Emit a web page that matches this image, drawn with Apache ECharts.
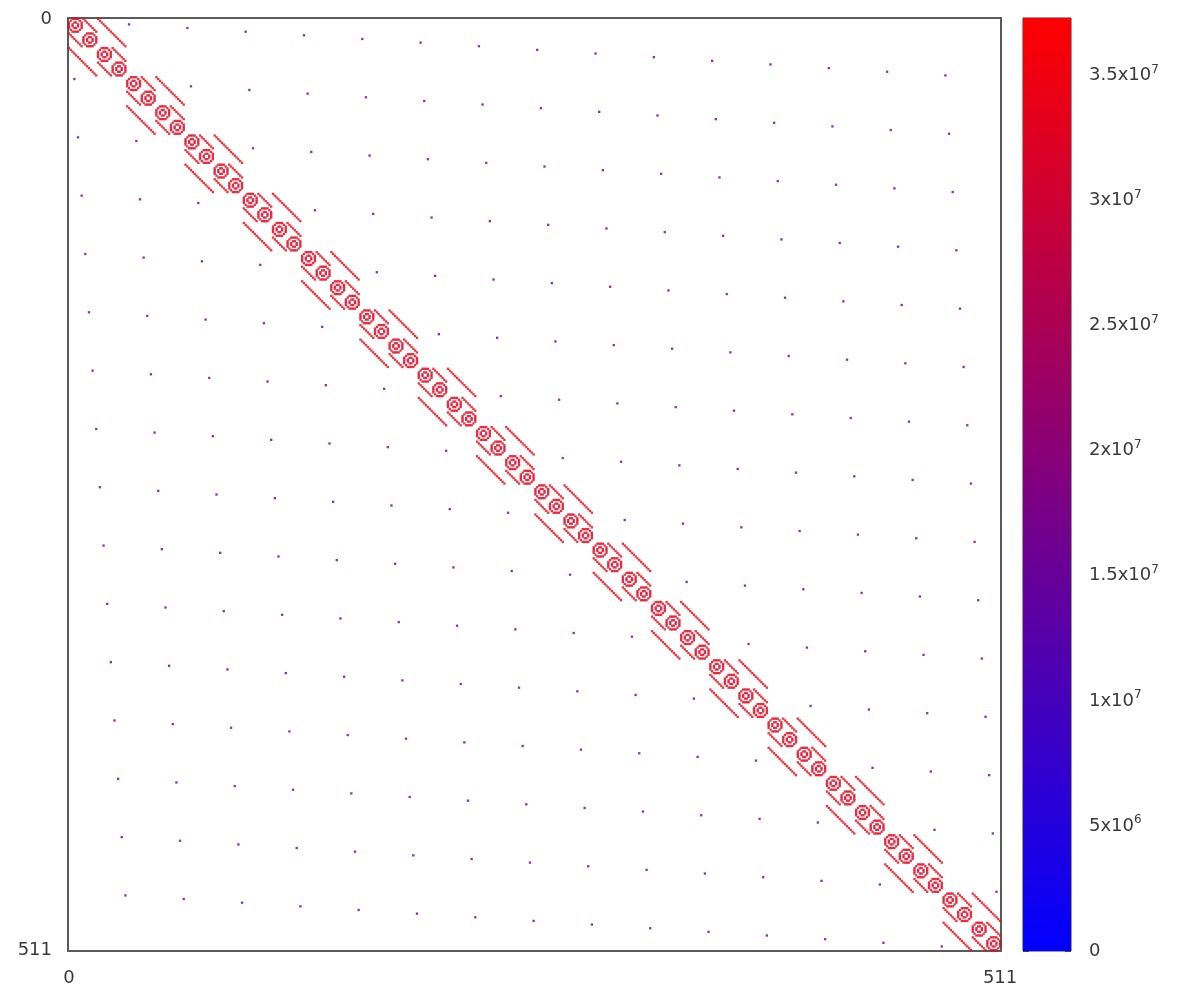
<!DOCTYPE html>
<html><head><meta charset="utf-8">
<script src="https://cdn.jsdelivr.net/npm/echarts@6/dist/echarts.min.js"></script>
<style>html,body{margin:0;padding:0;background:#fff}#c{width:1186px;height:990px}</style>
</head><body><div id="c"></div>
<script>
// ---- data ----
const N = 512;                       // matrix size (indices 0..511)
const shownTickIndices = [0, 511];   // only tick labels on the axes
const glyphSize = 8;                 // diagonal 8x8 blocks
const glyph = [                      // pattern of each diagonal block
  "..XXXX..",
  ".X....X.",
  "X..XX..X",
  "X.X..X.X",
  "X.X..X.X",
  "X..XX..X",
  ".X....X.",
  "..XXXX.."
];
const glyphValue = 34000000;
const glyphCoreValue = 30000000;
const bandOffsets = [8, 16];          // partner index = i XOR offset (parallel short diagonals)
const bandValue = 35500000;
const latticeStep = 32;               // isolated entries, one per 32x32 block
const latticeSkew = [1,3,5,7,9,11,13,15,17,19,21,23,25,27,29,31];
const dotValue = 17000000;
const colorMin = 0;
const colorMax = 37300000;
const colorbarTicks = [0, 5e6, 1e7, 1.5e7, 2e7, 2.5e7, 3e7, 3.5e7];

// ---- build cells ----
const cells = new Map();
function put(r, c, v) { if (r >= 0 && r < N && c >= 0 && c < N) cells.set(r * N + c, v); }
for (let b = 0; b < N / glyphSize; b++) {
  for (let i = 0; i < glyphSize; i++) for (let j = 0; j < glyphSize; j++) {
    if (glyph[i][j] === 'X') {
      const core = (i === 3 || i === 4) && (j === 2 || j === 5);
      put(b * glyphSize + i, b * glyphSize + j, core ? glyphCoreValue : glyphValue);
    }
  }
}
for (let r = 0; r < N; r++) for (const o of bandOffsets) put(r, r ^ o, bandValue);
const nb = N / latticeStep;
for (let i = 0; i < nb; i++) for (let j = 0; j < nb; j++) {
  if (i === j) continue;
  put(i * latticeStep + latticeSkew[j], j * latticeStep + latticeSkew[i], dotValue);
}
const heat = [];
cells.forEach((v, k) => heat.push([k % N, Math.floor(k / N), v]));
const cats = Array.from({length: N}, (_, i) => String(i));

const FONT = 'DejaVu Sans';
function sci(v) {
  if (v === 0) return '0';
  const e = Math.floor(Math.log10(v) + 1e-9);
  const m = +(v / Math.pow(10, e)).toFixed(2);
  return '{m|' + m + 'x10}{e|' + e + '}';
}

const chart = echarts.init(document.getElementById('c'), null, {renderer: 'canvas'});
chart.setOption({
  animation: false,
  backgroundColor: '#ffffff',
  grid: [
    {left: 68, top: 18, width: 933, height: 933, show: true, borderColor: '#5a5a5a', borderWidth: 2, backgroundColor: '#fff'},
    {left: 1023, top: 18, width: 48, height: 933, show: true, borderColor: '#333', borderWidth: 1}
  ],
  xAxis: [
    {type: 'category', gridIndex: 0, data: cats, axisLine: {show: false}, axisTick: {show: false}, splitLine: {show: false},
     axisLabel: {interval: (i) => shownTickIndices.includes(i), fontFamily: FONT, fontSize: 18, color: '#3a3a3a', margin: 18}},
    {type: 'category', gridIndex: 1, data: ['c'], show: false}
  ],
  yAxis: [
    {type: 'category', gridIndex: 0, data: cats, inverse: true, axisLine: {show: false}, axisTick: {show: false}, splitLine: {show: false},
     axisLabel: {interval: (i) => shownTickIndices.includes(i), fontFamily: FONT, fontSize: 18, color: '#3a3a3a', margin: 16}},
    {type: 'value', gridIndex: 1, position: 'right', min: colorMin, max: colorMax,
     axisLine: {show: false}, splitLine: {show: false},
     axisTick: {show: true, inside: true, length: 6, lineStyle: {color: '#222', width: 1.5}, customValues: colorbarTicks},
     axisLabel: {margin: 18, color: '#3a3a3a', fontFamily: FONT, fontSize: 18, customValues: colorbarTicks, formatter: sci,
       rich: {m: {fontFamily: FONT, fontSize: 18, color: '#3a3a3a', lineHeight: 24}, e: {fontFamily: FONT, fontSize: 12, color: '#3a3a3a', verticalAlign: 'top', lineHeight: 24, padding: [0,0,10,0]}}}},
    {type: 'value', gridIndex: 1, position: 'left', min: colorMin, max: colorMax,
     axisLine: {show: false}, splitLine: {show: false}, axisLabel: {show: false},
     axisTick: {show: true, inside: true, length: 6, lineStyle: {color: '#222', width: 1.5}, customValues: colorbarTicks}}
  ],
  visualMap: {show: false, seriesIndex: 0, dimension: 2, min: colorMin, max: colorMax, inRange: {color: ['#0000ff', '#ff0000']}},
  series: [
    {type: 'heatmap', xAxisIndex: 0, yAxisIndex: 0, data: heat, progressive: 0, emphasis: {disabled: true}, itemStyle: {opacity: 0.8}},
    {type: 'bar', xAxisIndex: 1, yAxisIndex: 1, data: [colorMax], barWidth: '100%', silent: true,
     itemStyle: {color: {type: 'linear', x: 0, y: 1, x2: 0, y2: 0, colorStops: [{offset: 0, color: '#0000ff'}, {offset: 1, color: '#ff0000'}]}}}
  ]
});
</script>
</body></html>
